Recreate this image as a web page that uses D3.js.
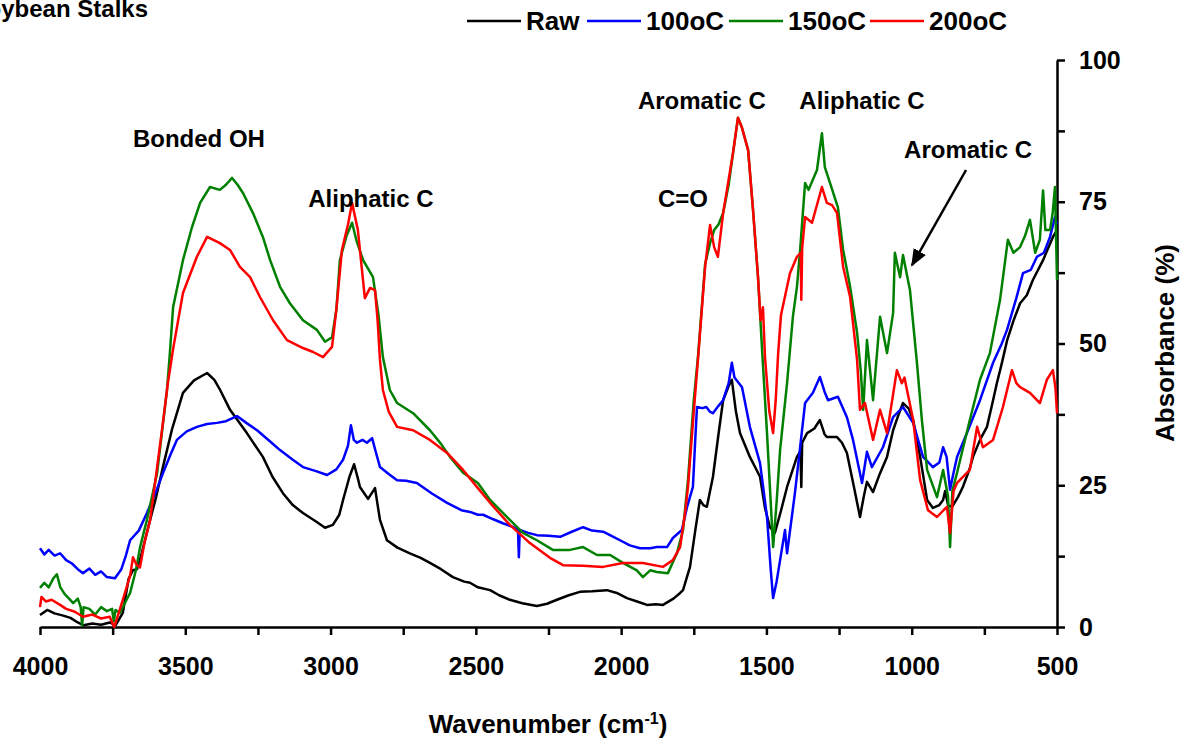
<!DOCTYPE html>
<html>
<head>
<meta charset="utf-8">
<script src="https://cdn.jsdelivr.net/npm/d3@7"></script>
<style>
  body { margin: 0; background: #fff; }
  text { font-family: "Liberation Sans", Arial, sans-serif; font-weight: bold; fill: #000; }
</style>
</head>
<body>
<svg id="chart" width="1185" height="742"></svg>
<script>
// ---------------- data: [wavenumber, absorbance %] ----------------
var seriesNames = ["Raw", "100oC", "150oC", "200oC"];
var seriesColors = ["#000000", "#0000ff", "#008000", "#ff0000"];

var raw = [[4000,2.1],[3975,3.0],[3950,2.4],[3920,2.0],[3895,1.6],[3870,0.8],[3850,0.3],[3820,0.6],[3790,0.4],[3760,0.8],[3740,0.3],
  [3715,2.5],[3695,8.5],[3680,10],[3666,10.2],[3650,13],[3621,18.9],[3600,23],[3577,28.2],[3545,35],[3508,41.3],[3470,43.5],[3425,44.8],
  [3400,43.6],[3380,41.8],[3346,38.3],[3288,34.2],[3233,30],[3200,26.5],[3164,23.6],[3130,21.5],[3095,20.1],[3050,18.6],[3019,17.5],
  [2992,18],[2970,19.8],[2957,22.4],[2935,26.5],[2919,28.7],[2905,26],[2899,24.7],[2871,22.6],[2847,24.5],[2838,21.5],[2830,18.9],
  [2806,15.3],[2770,14],[2727,13],[2690,12.2],[2658,11.3],[2620,10.2],[2579,8.8],[2540,8.0],[2520,7.8],[2493,7],[2451,6.5],[2420,5.6],
  [2383,4.8],[2340,4.2],[2290,3.7],[2255,4.1],[2221,4.8],[2180,5.6],[2142,6.2],[2100,6.3],[2049,6.5],[2015,6.0],[1980,5.1],[1940,4.4],
  [1911,3.9],[1880,4.0],[1856,3.9],[1820,5.0],[1797,6],[1787,6.5],[1763,10.6],[1745,17],[1729,22.4],[1717,21.5],[1705,21.2],[1684,26.5],
  [1665,34],[1649,40],[1630,42.5],[1619,43.6],[1605,38],[1591,34.2],[1557,30],[1522,26.5],[1505,21],[1488,17.6],[1471,16.6],[1450,20.5],
  [1429,24.7],[1395,30],[1383,31],[1380,24.7],[1377,32.5],[1360,34.2],[1335,35],[1316,36.5],[1300,34],[1292,33.5],[1257,33.5],[1240,32.5],
  [1223,30.7],[1200,25],[1178,19.4],[1165,23],[1154,25.6],[1133,23.8],[1110,27],[1085,30],[1064,34.7],[1045,37.5],[1030,39.5],[1010,38.5],
  [995,36.5],[971,30],[947,22.4],[927,21],[905,21.5],[892,22.4],[885,24],[875,21.5],[861,21.2],[840,23],[824,24.7],[800,28],[789,30],
  [765,33],[741,35.3],[720,40],[707,43],[690,46.5],[672,50.5],[650,54],[627,57.1],[604,58.5],[583,61.2],[548,64.7],[514,68.8],[500,70]];

var c100 = [[4000,13.9],[3985,12.8],[3970,13.6],[3950,12.6],[3931,13],[3910,11.8],[3890,11.2],[3870,10.2],[3852,9.5],[3830,10.3],
  [3810,9.2],[3790,9.8],[3770,8.8],[3742,8.6],[3720,10.2],[3705,12.5],[3690,15.3],[3660,17],[3632,20.1],[3600,24],[3577,27.1],[3550,30.5],
  [3529,33],[3495,34.5],[3460,35.3],[3425,35.8],[3391,36],[3360,36.3],[3322,37.2],[3290,36],[3253,34.7],[3210,32.8],[3174,31.2],
  [3130,29.5],[3095,28.2],[3050,27.5],[3012,26.8],[2980,27.8],[2957,29.5],[2940,32],[2930,35.6],[2920,33],[2909,32.5],[2890,33],
  [2875,32.5],[2857,33.3],[2845,31],[2830,28.2],[2800,27],[2771,25.9],[2740,25.8],[2703,25.4],[2650,23.5],[2599,21.9],[2550,20.6],
  [2520,20.3],[2493,19.8],[2475,19.8],[2440,19],[2407,18.3],[2370,17.6],[2355,17.1],[2352,12.3],[2349,17.1],[2320,16.6],[2290,16.2],
  [2250,16.1],[2210,15.9],[2170,16.8],[2131,17.6],[2100,17],[2062,16.8],[2030,16],[2004,15.3],[1970,14.4],[1935,13.9],[1900,13.9],
  [1877,14.1],[1842,14.1],[1822,15.7],[1791,17.1],[1773,21.2],[1753,24.7],[1745,33],[1739,38.8],[1720,38.6],[1707,38.8],[1695,38],
  [1684,37.7],[1665,39],[1649,40],[1630,43],[1619,46.6],[1610,44],[1584,42.3],[1557,35.3],[1522,28.9],[1498,19.4],[1485,10],[1477,5.1],
  [1465,8],[1453,11.8],[1436,17.1],[1429,13],[1402,23.6],[1384,31.7],[1367,39.5],[1340,41.3],[1316,44.1],[1300,41.5],[1288,40],
  [1254,40.6],[1223,37],[1202,33],[1171,25.4],[1154,30.9],[1137,28.2],[1099,31.7],[1064,37],[1030,38.8],[995,36],[961,30],[927,28.2],
  [905,29],[892,31.7],[880,30],[868,24.2],[857,27],[844,30],[810,34.2],[765,40],[720,46.6],[690,50],[672,52.4],[640,58],[617,62.4],
  [590,63],[569,65.3],[545,66],[524,68.8],[507,72.3],[500,71]];

var c150 = [[4000,6.9],[3985,7.8],[3970,7.0],[3955,8.5],[3942,9.3],[3930,7],[3915,5.8],[3900,5],[3886,4.2],[3870,5],[3860,3.5],
  [3855,0.3],[3850,3.5],[3830,3.2],[3810,2.2],[3790,3.5],[3770,2.8],[3752,3.2],[3746,1],[3740,3],[3725,2.5],[3705,4.5],[3690,6],
  [3670,10],[3656,14],[3632,18.9],[3597,27.1],[3563,41.8],[3553,48.3],[3542,56.4],[3508,64.7],[3477,70.5],[3449,74.8],[3415,77.6],
  [3381,77.1],[3360,78],[3339,79.2],[3320,78],[3301,76.5],[3267,73],[3233,68.8],[3208,64.7],[3174,60],[3140,57.1],[3095,54.1],
  [3047,52.4],[3019,50.3],[2995,51.1],[2980,56],[2968,64.7],[2945,69],[2926,71.3],[2910,68],[2888,64.7],[2854,61.7],[2835,55],
  [2820,47.6],[2796,41.8],[2771,39.5],[2716,37.7],[2658,34.7],[2620,32.3],[2589,30],[2544,27.2],[2493,25.4],[2451,22.4],[2383,18.9],
  [2338,16.6],[2290,15.3],[2235,13.6],[2176,13.6],[2131,14.1],[2083,12.7],[2038,12.7],[1994,11.3],[1946,10],[1925,8.8],[1900,10],
  [1877,9.7],[1839,9.5],[1808,13],[1787,17.1],[1770,25.9],[1750,40],[1735,48],[1711,64],[1694,67.7],[1680,70],[1665,71],[1649,73],
  [1630,78],[1615,83.6],[1598,89.8],[1585,88.2],[1563,84.1],[1546,73.5],[1529,61.7],[1515,48.9],[1498,34.2],[1477,14.1],[1465,22],
  [1453,31.2],[1429,43],[1409,54.7],[1395,60],[1384,66.5],[1367,78.3],[1355,77.1],[1326,80.6],[1309,87.1],[1299,81.1],[1281,78.3],
  [1254,74],[1236,66.5],[1212,60],[1188,51.9],[1175,45],[1167,38.3],[1154,50.6],[1133,40],[1109,54.7],[1085,48.3],[1064,55.4],
  [1058,66],[1040,61.7],[1030,65.6],[1006,59.4],[982,46.6],[965,36.5],[947,27.7],[913,22.9],[892,27.7],[875,23],[868,14.1],[860,24],
  [844,27.2],[800,36.5],[765,43.6],[731,48.3],[696,57.7],[669,68.3],[650,66],[627,67],[610,69],[593,71.8],[575,66],[559,68.3],
  [548,77],[540,70],[524,70],[515,73],[507,77.6],[500,61.2]];

var c200 = [[4000,3.5],[3995,5.3],[3980,4.5],[3960,4.8],[3931,3.9],[3910,3.2],[3880,2.7],[3852,1.8],[3820,2.2],[3790,1.5],[3760,1.8],
  [3745,0],[3735,1.5],[3715,4.8],[3690,9],[3680,12.3],[3668,11],[3656,10.5],[3640,15],[3621,18.9],[3600,27],[3577,36],[3560,43],
  [3542,49],[3508,58.9],[3460,65.3],[3425,68.8],[3400,68.2],[3381,67.7],[3346,66.5],[3312,63.5],[3277,61.7],[3243,58.2],[3198,54.1],
  [3150,50.6],[3095,49.2],[3060,48.5],[3026,47.6],[2995,49.4],[2980,56],[2961,66.5],[2940,71],[2926,74.8],[2906,70],[2882,58],
  [2864,59.8],[2847,59.4],[2838,54],[2830,47.1],[2820,41.8],[2800,38],[2771,35.3],[2716,34.7],[2658,33],[2599,30.7],[2544,27.7],
  [2493,24.5],[2451,21.9],[2383,18],[2314,14.8],[2245,12.2],[2200,10.9],[2131,10.8],[2062,10.6],[1994,11.3],[1925,11.3],[1856,10.6],
  [1822,11.8],[1797,14.1],[1780,20.1],[1770,24.7],[1750,38],[1735,47.6],[1711,63.5],[1694,70.9],[1680,67],[1667,65.3],[1649,73],
  [1615,83.6],[1598,89.8],[1585,88.2],[1563,84.1],[1546,73.5],[1529,61.7],[1520,54.1],[1512,56.4],[1505,47.6],[1490,38],[1477,34.2],
  [1468,40],[1460,48],[1450,55],[1419,62.4],[1395,65.3],[1382,66],[1380,57.7],[1377,66.8],[1367,72.3],[1343,71.3],[1309,77.6],
  [1292,74.8],[1274,74.4],[1257,73],[1236,63.5],[1212,58.2],[1188,47.1],[1178,38.3],[1161,39.5],[1133,33],[1109,38.3],[1085,34.2],
  [1051,45.3],[1034,43],[1025,44],[995,36.5],[971,25.9],[944,20.6],[913,19.4],[879,21.2],[868,16.6],[856,24],[844,25.4],[800,27.7],
  [775,35.3],[755,31.7],[720,33],[686,38.8],[655,45.3],[640,43],[627,42.3],[593,41.3],[559,39.5],[535,43.6],[514,45.3],[505,42],[500,37.7]];

var xTickValues = d3.range(4000, 499, -250);
var yTickValues = d3.range(0, 100.1, 12.5);

// annotation labels, anchored in data units
var notes = [
  {text: "Bonded OH", wn: 3453, v: 84.7},
  {text: "Aliphatic C", wn: 2861, v: 74.1},
  {text: "C=O", wn: 1787, v: 74.1},
  {text: "Aromatic C", wn: 1722, v: 91.4},
  {text: "Aliphatic C", wn: 1171, v: 91.4},
  {text: "Aromatic C", wn: 806, v: 82.7}
];
var arrowFrom = [813, 80.6], arrowTo = [999, 63.8];

// ------------------------------------------------------------------------
var svg = d3.select("#chart");

var x = d3.scaleLinear().domain([4000, 500]).range([40, 1057]);
var y = d3.scaleLinear().domain([0, 100]).range([627, 60]);

// title (cut by the left edge like the original)
svg.append("text")
  .attr("x", 148).attr("y", 17)
  .attr("text-anchor", "end")
  .style("font-size", "24px")
  .text("Soybean Stalks");

// axes
var xAxis = d3.axisBottom(x)
  .tickValues(xTickValues)
  .tickSize(8).tickSizeOuter(0).tickPadding(22)
  .tickFormat(function(d){ return d % 500 === 0 ? d : ""; });

var gx = svg.append("g")
  .attr("transform", "translate(0," + y(0) + ")")
  .call(xAxis);

var yAxis = d3.axisRight(y)
  .tickValues(yTickValues)
  .tickSize(8).tickSizeOuter(0).tickPadding(14)
  .tickFormat(function(d){ return d % 25 === 0 ? d : ""; });

var gy = svg.append("g")
  .attr("transform", "translate(" + x(500) + ",0)")
  .call(yAxis);

[gx, gy].forEach(function(g){
  g.selectAll("path, line").attr("stroke", "#000").attr("stroke-width", 2.5);
  g.selectAll("text").style("font-size", "25px").style("font-family", "'Liberation Sans', Arial, sans-serif")
    .style("font-weight", "bold").attr("fill", "#000");
});

svg.append("text")
  .attr("x", 548).attr("y", 733)
  .attr("text-anchor", "middle")
  .style("font-size", "26px")
  .html("Wavenumber (cm<tspan dy='-9' style='font-size:16px'>-1</tspan><tspan dy='9'>)</tspan>");

svg.append("text")
  .attr("transform", "translate(1174," + 343 + ") rotate(-90)")
  .attr("text-anchor", "middle")
  .style("font-size", "26px")
  .text("Absorbance (%)");

// spectra
var line = d3.line()
  .x(function(d){ return x(d[0]); })
  .y(function(d){ return y(d[1]); });

var allSeries = [raw, c100, c150, c200];

svg.selectAll(".spectrum")
  .data(allSeries)
.enter().append("path")
  .attr("class", "spectrum")
  .attr("d", line)
  .attr("fill", "none")
  .attr("stroke", function(d, i){ return seriesColors[i]; })
  .attr("stroke-width", 2.5)
  .attr("stroke-linejoin", "round");

// annotations
svg.selectAll(".note")
  .data(notes)
.enter().append("text")
  .attr("class", "note")
  .attr("x", function(d){ return x(d.wn); })
  .attr("y", function(d){ return y(d.v); })
  .attr("text-anchor", "middle")
  .style("font-size", "24px")
  .text(function(d){ return d.text; });

svg.append("defs").append("marker")
  .attr("id", "head")
  .attr("viewBox", "0 0 10 10")
  .attr("refX", 9).attr("refY", 5)
  .attr("markerWidth", 7).attr("markerHeight", 7)
  .attr("markerUnits", "strokeWidth")
  .attr("orient", "auto")
.append("path")
  .attr("d", "M0,1 L10,5 L0,9 z")
  .attr("fill", "#000");

svg.append("line")
  .attr("x1", x(arrowFrom[0])).attr("y1", y(arrowFrom[1]))
  .attr("x2", x(arrowTo[0])).attr("y2", y(arrowTo[1]))
  .attr("stroke", "#000").attr("stroke-width", 2.5)
  .attr("marker-end", "url(#head)");

// legend
var legend = svg.selectAll(".legend")
  .data(seriesNames)
.enter().append("g")
  .attr("class", "legend")
  .attr("transform", function(d, i){ return "translate(" + [467, 587, 729, 870][i] + ",21)"; });

legend.append("line")
  .attr("x1", 0).attr("x2", 54)
  .attr("stroke", function(d, i){ return seriesColors[i]; })
  .attr("stroke-width", 2.5);

legend.append("text")
  .attr("x", 59).attr("dy", "0.35em")
  .style("font-size", "26px")
  .text(function(d){ return d; });
</script>
</body>
</html>
